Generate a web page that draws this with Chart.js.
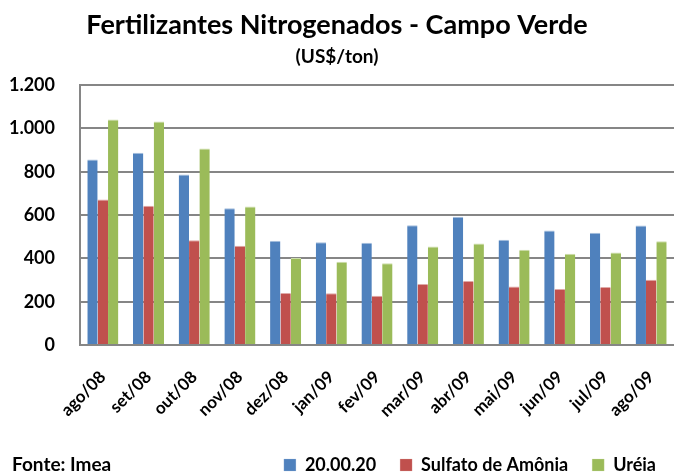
<!DOCTYPE html>
<html>
<head>
<meta charset="utf-8">
<script src="https://cdn.jsdelivr.net/npm/chart.js@4/dist/chart.umd.min.js"></script>
<style>
  html, body { margin: 0; padding: 0; background: #fff; }
  #wrap { position: relative; width: 674px; height: 475px; }
  #fonte { position: absolute; left: 12px; top: 452px; font: bold 19px Lato, sans-serif; color: #000; line-height: 24px; }
</style>
</head>
<body>
<div id="wrap">
  <canvas id="c" width="674" height="475"></canvas>
  <div id="fonte">Fonte: Imea</div>
</div>
<script>
const categories = ["ago/08","set/08","out/08","nov/08","dez/08","jan/09","fev/09","mar/09","abr/09","mai/09","jun/09","jul/09","ago/09"];
const seriesNames = ["20.00.20","Sulfato de Amônia","Uréia"];
const npk = [857, 888, 788, 632, 481, 475, 472, 553, 592, 486, 529, 518, 552];
const sulfato = [672, 643, 484, 458, 240, 239, 227, 282, 296, 270, 259, 268, 301];
const ureia = [1041, 1032, 908, 640, 402, 384, 378, 455, 469, 440, 421, 427, 479];
const yTicks = [0, 200, 400, 600, 800, 1000, 1200];
const colors = ["#4F81BD", "#C0504D", "#9BBB59"];
const borders = ["#A7C0DE", "#DFA9A7", "#CDDDAC"];

function fmt(v) {
  return String(v).replace(/\B(?=(\d{3})+(?!\d))/g, ".");
}

const font = "Lato, sans-serif";

const legendShift = {
  id: "legendShift",
  afterLayout(chart) {
    const lg = chart.legend;
    if (!lg) return;
    lg.top += 9; lg.bottom += 9;
    lg.left += 6; lg.right += 6;
  }
};

new Chart(document.getElementById("c"), {
  type: "bar",
  data: {
    labels: categories,
    datasets: [npk, sulfato, ureia].map((d, i) => ({
      label: seriesNames[i],
      data: d,
      backgroundColor: colors[i],
      borderColor: borders[i],
      borderWidth: { top: 1, left: 0, right: 0, bottom: 0 },
      categoryPercentage: 0.68,
      barPercentage: 1.0
    }))
  },
  plugins: [legendShift],
  options: {
    responsive: false,
    animation: false,
    layout: { padding: { left: 0, right: 0, top: 5, bottom: 0 } },
    plugins: {
      title: {
        display: true,
        text: "Fertilizantes Nitrogenados - Campo Verde",
        color: "#000",
        font: { family: font, size: 27, weight: "bold" },
        padding: { top: 4, bottom: 2 }
      },
      subtitle: {
        display: true,
        text: "(US$/ton)",
        color: "#000",
        font: { family: font, size: 19, weight: "bold" },
        padding: { top: 2, bottom: 17 }
      },
      legend: {
        position: "bottom",
        align: "end",
        labels: {
          color: "#000",
          font: { family: font, size: 18, weight: "bold" },
          boxWidth: 12,
          boxHeight: 12,
          padding: 24
        }
      },
      tooltip: { enabled: false }
    },
    scales: {
      x: {
        afterFit: (s) => { s.height = 78; s.paddingRight = 0; },
        grid: { display: false, drawTicks: false },
        border: { color: "#868686", width: 2 },
        ticks: {
          color: "#000",
          font: { family: font, size: 17, weight: "bold" },
          minRotation: 45,
          maxRotation: 45,
          padding: 22
        }
      },
      y: {
        min: 0,
        max: 1200,
        afterFit: (s) => { s.width = 80; },
        afterBuildTicks: (axis) => { axis.ticks = yTicks.map(v => ({ value: v })); },
        grid: { color: "#868686", lineWidth: 2, drawTicks: false },
        border: { color: "#868686", width: 2 },
        ticks: {
          color: "#000",
          font: { family: font, size: 18, weight: "bold" },
          padding: 25,
          callback: (v) => fmt(v)
        }
      }
    }
  }
});
</script>
</body>
</html>
